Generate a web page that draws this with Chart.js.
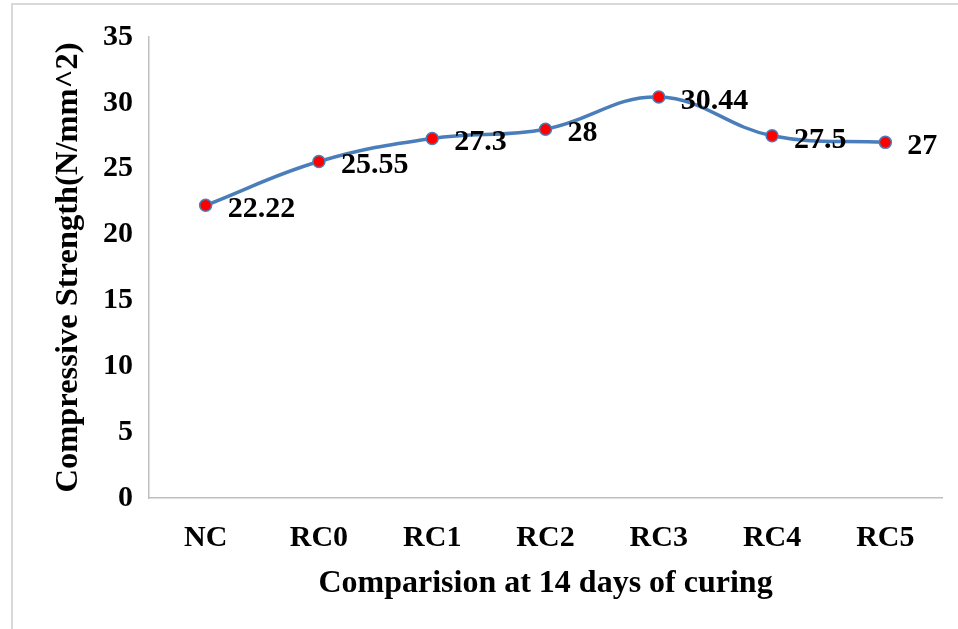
<!DOCTYPE html>
<html>
<head>
<meta charset="utf-8">
<script src="https://cdn.jsdelivr.net/npm/chart.js@4.4.0/dist/chart.umd.min.js"></script>
<style>
html,body{margin:0;padding:0;background:#fff;}
#wrap{position:relative;width:958px;height:629px;}
canvas{display:block;}
</style>
</head>
<body>
<div id="wrap"><canvas id="c" width="958" height="629"></canvas></div>
<script>
const categories = ['NC', 'RC0', 'RC1', 'RC2', 'RC3', 'RC4', 'RC5'];
const strengthValues = [22.22, 25.55, 27.3, 28, 30.44, 27.5, 27];
const valueLabels = ['22.22', '25.55', '27.3', '28', '30.44', '27.5', '27'];
const yTitle = 'Compressive Strength(N/mm^2)';
const xTitle = 'Comparision at 14 days of curing';

const FONT = '"Liberation Serif", "Times New Roman", serif';

const framePlugin = {
  id: 'frame',
  beforeDraw(chart) {
    const ctx = chart.ctx;
    ctx.save();
    ctx.strokeStyle = '#d9d9d9';
    ctx.lineWidth = 2;
    ctx.beginPath();
    ctx.moveTo(12, 629);
    ctx.lineTo(12, 4);
    ctx.lineTo(958, 4);
    ctx.stroke();
    ctx.restore();
  }
};

const labelPlugin = {
  id: 'valueLabels',
  afterDatasetsDraw(chart) {
    const ctx = chart.ctx;
    const meta = chart.getDatasetMeta(0);
    ctx.save();
    ctx.font = 'bold 30px ' + FONT;
    ctx.fillStyle = '#000';
    ctx.textAlign = 'left';
    ctx.textBaseline = 'alphabetic';
    meta.data.forEach((pt, i) => {
      ctx.fillText(valueLabels[i], pt.x + 22, pt.y + 12);
    });
    ctx.restore();
  }
};

new Chart(document.getElementById('c'), {
  type: 'line',
  data: {
    labels: categories,
    datasets: [{
      data: strengthValues,
      borderColor: '#4a7ebb',
      borderWidth: 3.5,
      tension: 0.4,
      pointRadius: 6,
      pointBackgroundColor: '#ff0000',
      pointBorderColor: '#4a7ebb',
      pointBorderWidth: 1.5,
      fill: false
    }]
  },
  options: {
    responsive: false,
    animation: false,
    devicePixelRatio: 1,
    layout: { padding: { left: 0, right: 16, top: 37, bottom: 0 } },
    plugins: { legend: { display: false }, tooltip: { enabled: false } },
    scales: {
      x: {
        type: 'category',
        offset: true,
        grid: { display: false, drawTicks: false },
        border: { display: true, color: '#bfbfbf', width: 1.5 },
        ticks: { color: '#000', font: { family: FONT, size: 30, weight: 'bold' }, padding: 22, maxRotation: 0 },
        title: { display: true, text: xTitle, color: '#000', font: { family: FONT, size: 32, weight: 'bold' }, padding: { top: 0, bottom: 26 } },
        afterFit(scale) { scale.height = 131; }
      },
      y: {
        min: 0,
        max: 35,
        grid: { display: false, drawTicks: false },
        border: { display: true, color: '#bfbfbf', width: 1.5 },
        ticks: { stepSize: 5, color: '#000', font: { family: FONT, size: 30, weight: 'bold' }, padding: 16 },
        title: { display: true, text: yTitle, color: '#000', font: { family: FONT, size: 32.5, weight: 'bold' }, padding: { top: 49, bottom: 0 } },
        afterFit(scale) { scale.width = 149; }
      }
    }
  },
  plugins: [framePlugin, labelPlugin]
});
</script>
</body>
</html>
